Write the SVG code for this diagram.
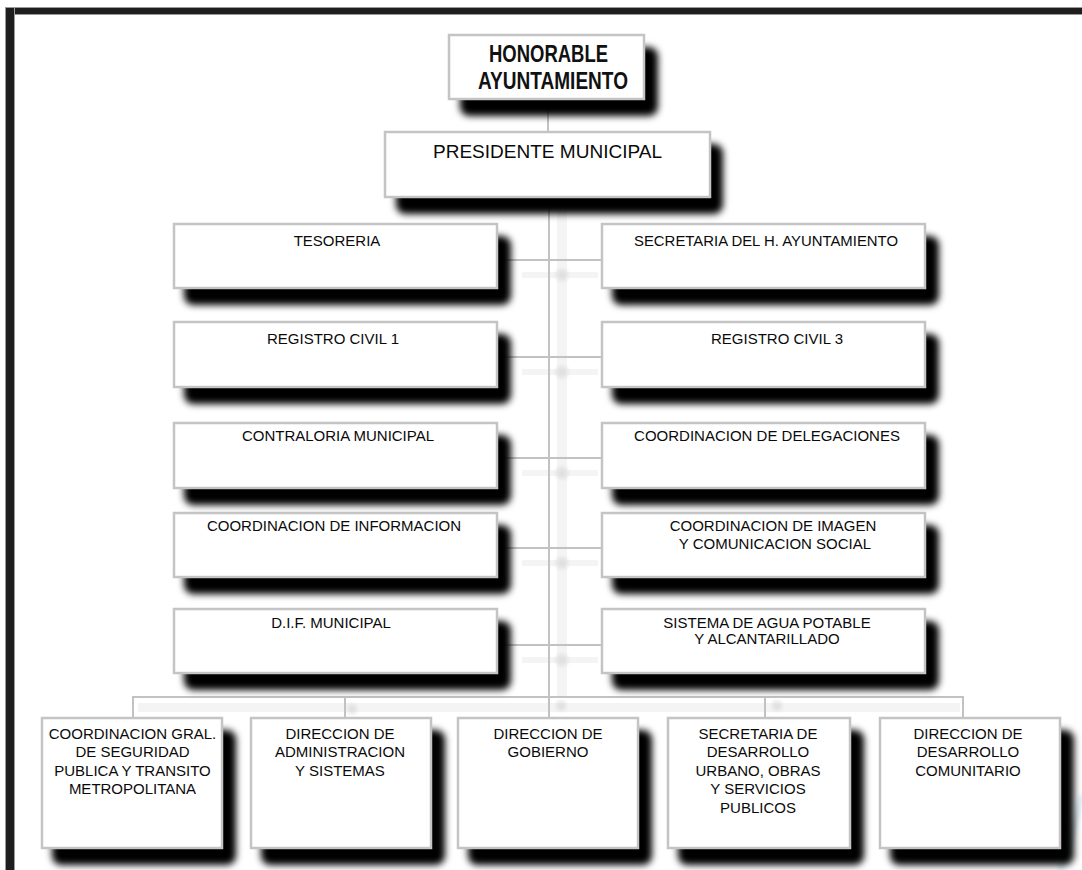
<svg xmlns="http://www.w3.org/2000/svg" width="1082" height="870" viewBox="0 0 1082 870">
  <defs>
    <filter id="blur3" x="-10%" y="-20%" width="120%" height="140%">
      <feGaussianBlur stdDeviation="3.5"/>
    </filter>
    <filter id="blur2" x="-20%" y="-20%" width="140%" height="140%">
      <feGaussianBlur stdDeviation="2"/>
    </filter>
    <style>
      .box { fill: #ffffff; stroke: #c4c4c4; stroke-width: 2.5; }
      .shadow { fill: #000000; filter: url(#blur3); }
      .t { font-family: "Liberation Sans", Arial, sans-serif; font-size: 15px; fill: #0a0a0a; text-anchor: middle; }
      .tp { font-family: "Liberation Sans", Arial, sans-serif; font-size: 19px; fill: #0a0a0a; text-anchor: middle; }
      .th { font-family: "Liberation Sans Narrow", "Liberation Sans", Arial, sans-serif; font-size: 23px; font-weight: bold; fill: #111; text-anchor: middle; }
      .line { fill: none; stroke: #c2c2c2; stroke-width: 2; }
      .ghost { fill: #f4f4f4; }
      .ghostdot { fill: #e0e0e0; filter: url(#blur2); }
    </style>
  </defs>

  <rect x="0" y="0" width="1082" height="870" fill="#ffffff"/>

  <!-- frame -->
  <g id="frame">
    <rect x="5" y="7" width="1077" height="8" fill="#9a9a9a"/>
    <rect x="5" y="8" width="1077" height="6" fill="#1e1e1e"/>
    <rect x="5" y="7" width="10" height="863" fill="#9a9a9a"/>
    <rect x="6" y="8" width="8" height="862" fill="#1e1e1e"/>
    <path d="M1082,795 Q1072,840 1060,870" fill="none" stroke="#bfe2f2" stroke-width="5" opacity="0.6" filter="url(#blur2)"/>
  </g>

  <!-- connectors -->
  <g id="connectors">
    <rect class="ghost" x="557" y="200" width="10" height="497"/>
    <rect class="ghost" x="522" y="272" width="76" height="6"/>
    <rect class="ghost" x="522" y="369" width="76" height="6"/>
    <rect class="ghost" x="522" y="470" width="76" height="6"/>
    <rect class="ghost" x="522" y="560" width="76" height="6"/>
    <rect class="ghost" x="522" y="657" width="76" height="6"/>
    <rect class="ghost" x="138" y="703" width="822" height="9"/>
    <circle class="ghostdot" cx="562" cy="275" r="6"/>
    <circle class="ghostdot" cx="562" cy="372" r="6"/>
    <circle class="ghostdot" cx="562" cy="473" r="6"/>
    <circle class="ghostdot" cx="562" cy="563" r="6"/>
    <circle class="ghostdot" cx="562" cy="660" r="6"/>
    <circle class="ghostdot" cx="352" cy="709" r="5"/>
    <circle class="ghostdot" cx="561" cy="706" r="5"/>
    <circle class="ghostdot" cx="777" cy="706" r="5"/>

    <path class="line" d="M548,99 V132"/>
    <path class="line" d="M549,197 V697"/>
    <path class="line" d="M497,260 H602"/>
    <path class="line" d="M497,357 H602"/>
    <path class="line" d="M497,458 H602"/>
    <path class="line" d="M497,548 H602"/>
    <path class="line" d="M497,645 H602"/>
    <path class="line" d="M133,718 V697 H963 V718"/>
    <path class="line" d="M345,697 V718"/>
    <path class="line" d="M549,697 V718"/>
    <path class="line" d="M765,697 V718"/>
  </g>

  <!-- top nodes -->
  <g id="honorable-ayuntamiento">
    <rect class="shadow" x="460" y="47" width="198" height="69" rx="9"/>
    <rect class="box" x="449" y="35" width="195" height="64"/>
    <text class="th" x="548.5" y="62" textLength="119" lengthAdjust="spacingAndGlyphs">HONORABLE</text>
    <text class="th" x="553" y="89" textLength="150" lengthAdjust="spacingAndGlyphs">AYUNTAMIENTO</text>
  </g>

  <g id="presidente-municipal">
    <rect class="shadow" x="396" y="144" width="327" height="70" rx="9"/>
    <rect class="box" x="385" y="132" width="325" height="65"/>
    <text class="tp" x="547.5" y="158" textLength="229" lengthAdjust="spacingAndGlyphs">PRESIDENTE MUNICIPAL</text>
  </g>

  <!-- row 1 -->
  <g id="tesoreria">
    <rect class="shadow" x="184" y="236" width="327" height="69" rx="9"/>
    <rect class="box" x="174" y="224" width="323" height="64"/>
    <text class="t" x="337" y="246">TESORERIA</text>
  </g>
  <g id="secretaria-ayuntamiento">
    <rect class="shadow" x="612" y="236" width="327" height="69" rx="9"/>
    <rect class="box" x="602" y="224" width="323" height="64"/>
    <text class="t" x="766" y="246" textLength="264" lengthAdjust="spacingAndGlyphs">SECRETARIA DEL H. AYUNTAMIENTO</text>
  </g>

  <!-- row 2 -->
  <g id="registro-civil-1">
    <rect class="shadow" x="184" y="334" width="327" height="70" rx="9"/>
    <rect class="box" x="174" y="322" width="323" height="65"/>
    <text class="t" x="333" y="343.5">REGISTRO CIVIL 1</text>
  </g>
  <g id="registro-civil-3">
    <rect class="shadow" x="612" y="334" width="327" height="70" rx="9"/>
    <rect class="box" x="602" y="322" width="323" height="65"/>
    <text class="t" x="777" y="343.5">REGISTRO CIVIL 3</text>
  </g>

  <!-- row 3 -->
  <g id="contraloria-municipal">
    <rect class="shadow" x="184" y="435" width="327" height="70" rx="9"/>
    <rect class="box" x="174" y="423" width="323" height="65"/>
    <text class="t" x="338" y="440.5" textLength="192" lengthAdjust="spacingAndGlyphs">CONTRALORIA MUNICIPAL</text>
  </g>
  <g id="coordinacion-delegaciones">
    <rect class="shadow" x="612" y="435" width="327" height="70" rx="9"/>
    <rect class="box" x="602" y="423" width="323" height="65"/>
    <text class="t" x="767" y="440.5">COORDINACION DE DELEGACIONES</text>
  </g>

  <!-- row 4 -->
  <g id="coordinacion-informacion">
    <rect class="shadow" x="184" y="525" width="327" height="69" rx="9"/>
    <rect class="box" x="174" y="513" width="323" height="64"/>
    <text class="t" x="334" y="530.5">COORDINACION DE INFORMACION</text>
  </g>
  <g id="coordinacion-imagen">
    <rect class="shadow" x="612" y="525" width="327" height="69" rx="9"/>
    <rect class="box" x="602" y="513" width="323" height="64"/>
    <text class="t" x="773" y="530.5">COORDINACION DE IMAGEN</text>
    <text class="t" x="775" y="548.5">Y COMUNICACION SOCIAL</text>
  </g>

  <!-- row 5 -->
  <g id="dif-municipal">
    <rect class="shadow" x="184" y="621" width="327" height="69" rx="9"/>
    <rect class="box" x="174" y="609" width="323" height="64"/>
    <text class="t" x="331" y="627.5">D.I.F. MUNICIPAL</text>
  </g>
  <g id="sistema-agua-potable">
    <rect class="shadow" x="612" y="621" width="327" height="69" rx="9"/>
    <rect class="box" x="602" y="609" width="323" height="64"/>
    <text class="t" x="767" y="627.5">SISTEMA DE AGUA POTABLE</text>
    <text class="t" x="767" y="644">Y ALCANTARILLADO</text>
  </g>

  <!-- bottom row -->
  <g id="coordinacion-seguridad">
    <rect class="shadow" x="52" y="730" width="184" height="135" rx="9"/>
    <rect class="box" x="42" y="718" width="180" height="130"/>
    <text class="t" x="132.5" y="738.5">COORDINACION GRAL.</text>
    <text class="t" x="132.5" y="757">DE SEGURIDAD</text>
    <text class="t" x="132.5" y="775.5">PUBLICA Y TRANSITO</text>
    <text class="t" x="132.5" y="794">METROPOLITANA</text>
  </g>
  <g id="direccion-administracion">
    <rect class="shadow" x="261" y="730" width="184" height="135" rx="9"/>
    <rect class="box" x="251" y="718" width="180" height="130"/>
    <text class="t" x="340" y="738.5">DIRECCION DE</text>
    <text class="t" x="340" y="757">ADMINISTRACION</text>
    <text class="t" x="340" y="775.5">Y SISTEMAS</text>
  </g>
  <g id="direccion-gobierno">
    <rect class="shadow" x="468" y="730" width="184" height="135" rx="9"/>
    <rect class="box" x="458" y="718" width="180" height="130"/>
    <text class="t" x="548" y="738.5">DIRECCION DE</text>
    <text class="t" x="548" y="757">GOBIERNO</text>
  </g>
  <g id="secretaria-desarrollo-urbano">
    <rect class="shadow" x="678" y="730" width="186" height="135" rx="9"/>
    <rect class="box" x="668" y="718" width="182" height="130"/>
    <text class="t" x="758" y="738.5">SECRETARIA DE</text>
    <text class="t" x="758" y="757">DESARROLLO</text>
    <text class="t" x="758" y="775.5">URBANO, OBRAS</text>
    <text class="t" x="758" y="794">Y SERVICIOS</text>
    <text class="t" x="758" y="812.5">PUBLICOS</text>
  </g>
  <g id="direccion-desarrollo-comunitario">
    <rect class="shadow" x="890" y="730" width="184" height="135" rx="9"/>
    <rect class="box" x="880" y="718" width="180" height="130"/>
    <text class="t" x="968" y="738.5">DIRECCION DE</text>
    <text class="t" x="968" y="757">DESARROLLO</text>
    <text class="t" x="968" y="775.5">COMUNITARIO</text>
  </g>
</svg>
